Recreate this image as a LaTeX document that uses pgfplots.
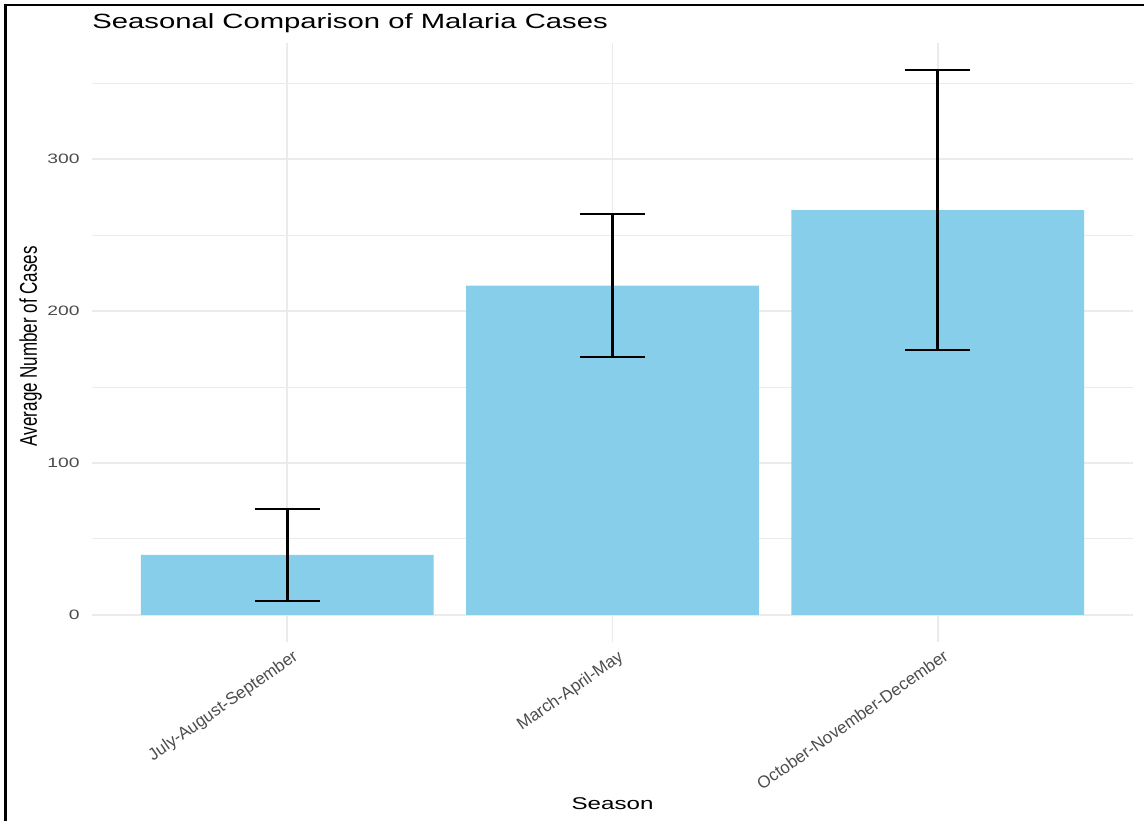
\documentclass[border=0pt]{standalone}
\usepackage{pgfplots}
\pgfplotsset{compat=1.18}
\usepackage{fontspec}
\setmainfont{Liberation Sans}
\newfontfamily\hfont[FakeStretch=1.42]{Liberation Sans}
\newfontfamily\vfont[FakeStretch=0.704]{Liberation Sans}
\newfontfamily\rfont{Liberation Sans}
\definecolor{skyblue}{HTML}{87CEEB}
\definecolor{gridgray}{HTML}{EBEBEB}
\definecolor{ticktext}{HTML}{4D4D4D}
\begin{document}
\begin{tikzpicture}
\path[use as bounding box] (0,0) rectangle (572pt,410.5pt);
\draw[line width=1.1pt, black] (2.75pt,0) -- (2.75pt,408pt) -- (572pt,408pt);
\begin{axis}[
 at={(46pt,89.5pt)}, anchor=south west,
 scale only axis, width=520.5pt, height=299.5pt,
 xmin=0.4, xmax=3.6, ymin=-17.93, ymax=376.5,
 axis line style={draw=none},
 major tick length=0pt, minor tick length=0pt,
 xtick={1,2,3}, xticklabels={July-August-September, March-April-May, October-November-December},
 ytick={0,100,200,300}, minor ytick={50,150,250,350},
 xmajorgrids, ymajorgrids, yminorgrids,
 major grid style={gridgray, line width=0.8pt},
 minor grid style={gridgray, line width=0.45pt},
 /pgf/number format/assume math mode=true,
 yticklabel style={font=\hfont\fontsize{6.8}{8}\selectfont, text=ticktext, anchor=east, inner sep=0pt, xshift=-6pt},
 xticklabel style={font=\rfont\fontsize{8.5}{10}\selectfont, text=ticktext, rotate=35, anchor=north east, inner sep=0pt, yshift=-4pt},
 title={Seasonal Comparison of Malaria Cases},
 every axis title/.style={font=\hfont\fontsize{10.3}{12}\selectfont, at={(axis description cs:0,1)}, anchor=base west, inner sep=0pt, yshift=7pt},
 xlabel={Season}, ylabel={Average Number of Cases},
 every axis x label/.style={at={(axis description cs:0.5,-0.2705)}, anchor=center, font=\hfont\fontsize{8.5}{10}\selectfont},
 every axis y label/.style={at={(axis description cs:-0.059,0.494)}, anchor=center, rotate=90, font=\vfont\fontsize{12.07}{14}\selectfont},
]
\addplot[ybar, bar width=0.9, fill=skyblue, draw=none,
 error bars/.cd, y dir=both, y explicit,
 error bar style={line width=1.4pt, black},
 error mark options={rotate=90, mark size=16.25pt, line width=0.95pt, black}]
 coordinates {(1,39.4) +- (0,30.2) (2,216.8) +- (0,47.0) (3,266.4) +- (0,92.1)};
\end{axis}
\end{tikzpicture}
\end{document}
